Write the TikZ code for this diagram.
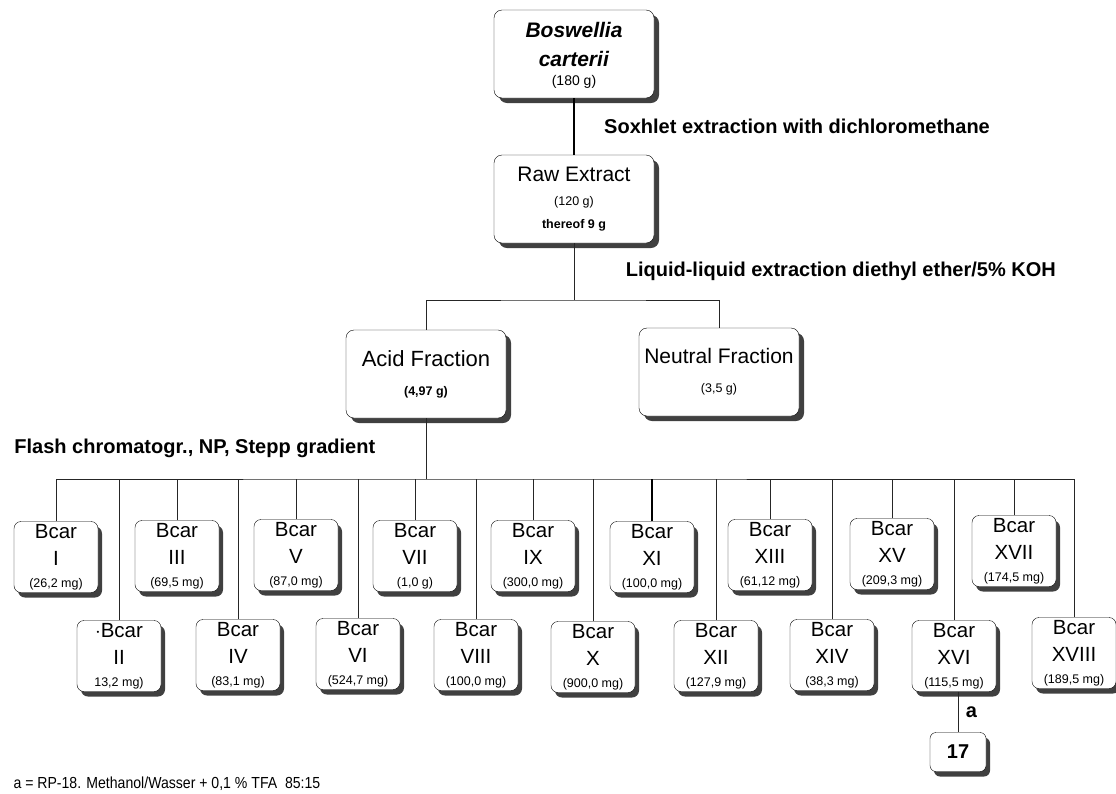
\documentclass[tikz,border=0pt]{standalone}
\usepackage{fontspec}
\setmainfont{Liberation Sans}
\newfontfamily\narrowfont[FakeStretch=0.88]{Liberation Sans}
\usepackage{tikz}
\usetikzlibrary{positioning,shadows}
\newcommand{\amount}[1]{{\fontsize{12.5}{14}\selectfont #1}}
\tikzset{
  box/.style={draw,rounded corners=8pt,fill=white,align=center,
              minimum width=160pt,minimum height=88pt,inner sep=2pt,
              drop shadow={shadow xshift=5pt,shadow yshift=-5pt,fill=black!75,opacity=1}},
  bcarbox/.style={draw,rounded corners=7pt,fill=white,align=center,
              minimum width=84pt,minimum height=71pt,inner sep=1pt,
              font=\fontsize{20.5}{27}\selectfont,
              drop shadow={shadow xshift=4pt,shadow yshift=-5pt,fill=black!75,opacity=1}},
  smallbox/.style={draw,rounded corners=6pt,fill=white,align=center,
              minimum width=56pt,minimum height=39pt,inner sep=1pt,
              font=\fontsize{20}{22}\selectfont\bfseries,
              drop shadow={shadow xshift=4pt,shadow yshift=-5pt,fill=black!75,opacity=1}},
  link/.style={draw=black!85,line width=0.9pt},
  thicklink/.style={draw=black,line width=1.8pt},
  procnote/.style={font=\fontsize{20}{22}\selectfont\bfseries},
  footnote/.style={font=\fontsize{16}{18}\selectfont\narrowfont}
}
\begin{document}
\begin{tikzpicture}[x=1pt,y=-1pt]
  \useasboundingbox (0,0) rectangle (1116,793);
  % extraction steps
  \node[box,font=\fontsize{21}{29}\selectfont,text depth=-6pt] (plant) at (574,54)
    {\textbf{\textit{Boswellia}}\\\textbf{\textit{carterii}}\\[-10pt]\amount{\fontsize{14}{16}\selectfont(180 g)}};
  \node[box,font=\fontsize{21}{25}\selectfont] (raw) at (574,199)
    {Raw Extract\\[-1pt]\amount{(120 g)}\\[-2pt]\amount{\bfseries thereof 9 g}};
  \node[box,font=\fontsize{22}{29}\selectfont] (acid) at (426,374)
    {Acid Fraction\\\amount{\bfseries (4,97 g)}};
  \node[box,font=\fontsize{21}{29}\selectfont] (neutral) at (719,372)
    {Neutral Fraction\\\amount{(3,5 g)}};
  \coordinate (split1) at (574,300);
  \coordinate (split2) at (426,479);
  \draw[thicklink] (plant) -- node[right=26pt,procnote]{Soxhlet extraction with dichloromethane} (raw);
  \draw[link] (raw) -- node[right=48pt,procnote]{Liquid-liquid extraction diethyl ether/5\% KOH} (split1);
  \draw[link] (acid.north) |- (split1) -| (neutral.north);
  \draw[link] (acid) -- node[left=47pt,procnote]{Flash chromatogr., NP, Stepp gradient} (split2);
  % fractions
  \node[bcarbox] (b1) at (56,557) {Bcar\\I\\[-5pt]\amount{(26,2 mg)}};
  \node[bcarbox] (b2) at (119,656) {$\cdot$Bcar\\II\\[-5pt]\amount{13,2 mg)}};
  \node[bcarbox] (b3) at (177,556) {Bcar\\III\\[-5pt]\amount{(69,5 mg)}};
  \node[bcarbox] (b4) at (238,655) {Bcar\\IV\\[-5pt]\amount{(83,1 mg)}};
  \node[bcarbox] (b5) at (296,555) {Bcar\\V\\[-5pt]\amount{(87,0 mg)}};
  \node[bcarbox] (b6) at (358,654) {Bcar\\VI\\[-5pt]\amount{(524,7 mg)}};
  \node[bcarbox] (b7) at (415,556) {Bcar\\VII\\[-5pt]\amount{(1,0 g)}};
  \node[bcarbox] (b8) at (476,655) {Bcar\\VIII\\[-5pt]\amount{(100,0 mg)}};
  \node[bcarbox] (b9) at (533,556) {Bcar\\IX\\[-5pt]\amount{(300,0 mg)}};
  \node[bcarbox] (b10) at (593,657) {Bcar\\X\\[-5pt]\amount{(900,0 mg)}};
  \node[bcarbox] (b11) at (652,557) {Bcar\\XI\\[-5pt]\amount{(100,0 mg)}};
  \node[bcarbox] (b12) at (716,656) {Bcar\\XII\\[-5pt]\amount{(127,9 mg)}};
  \node[bcarbox] (b13) at (770,555) {Bcar\\XIII\\[-5pt]\amount{(61,12 mg)}};
  \node[bcarbox] (b14) at (832,655) {Bcar\\XIV\\[-5pt]\amount{(38,3 mg)}};
  \node[bcarbox] (b15) at (892,554) {Bcar\\XV\\[-5pt]\amount{(209,3 mg)}};
  \node[bcarbox] (b16) at (954,656) {Bcar\\XVI\\[-5pt]\amount{(115,5 mg)}};
  \node[bcarbox] (b17) at (1014,551) {Bcar\\XVII\\[-5pt]\amount{(174,5 mg)}};
  \node[bcarbox] (b18) at (1074,653) {Bcar\\XVIII\\[-5pt]\amount{(189,5 mg)}};
  \draw[link] (b1.north) |- (split2) -| (b18.north);
  \draw[link] (b2.north) -- (b2.north |- split2);
  \draw[link] (b3.north) -- (b3.north |- split2);
  \draw[link] (b4.north) -- (b4.north |- split2);
  \draw[link] (b5.north) -- (b5.north |- split2);
  \draw[link] (b6.north) -- (b6.north |- split2);
  \draw[link] (b7.north) -- (b7.north |- split2);
  \draw[link] (b8.north) -- (b8.north |- split2);
  \draw[link] (b9.north) -- (b9.north |- split2);
  \draw[link] (b10.north) -- (b10.north |- split2);
  \draw[thicklink,line width=1.3pt] (b11.north) -- (b11.north |- split2);
  \draw[link] (b12.north) -- (b12.north |- split2);
  \draw[link] (b13.north) -- (b13.north |- split2);
  \draw[link] (b14.north) -- (b14.north |- split2);
  \draw[link] (b15.north) -- (b15.north |- split2);
  \draw[link] (b16.north) -- (b16.north |- split2);
  \draw[link] (b17.north) -- (b17.north |- split2);
  % RP-18 step
  \node[smallbox] (c17) at (958,752) {17};
  \draw[link] (b16.south -| c17) -- node[right=4pt,procnote]{a} (c17);
  \node[footnote,anchor=west] (legend) at (10,784) {a = RP-18. Methanol/Wasser + 0,1 \% TFA\ \ 85:15};
\end{tikzpicture}
\end{document}
